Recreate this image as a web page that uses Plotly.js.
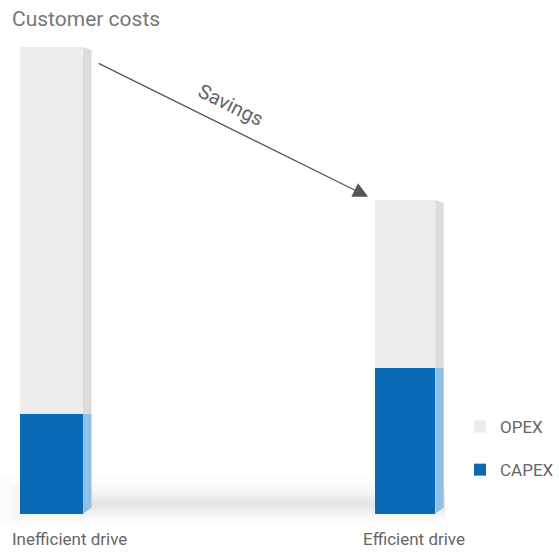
<!DOCTYPE html>
<html>
<head>
<meta charset="utf-8">
<script src="https://cdn.plot.ly/plotly-3.0.1.min.js"></script>
<style>html,body{margin:0;padding:0;background:#fff;}#chart{width:559px;height:555px;}</style>
</head>
<body>
<div id="chart"></div>
<script>
const categories = ["Inefficient drive", "Efficient drive"];
const capex = [21.4, 31.3];
const opex = [78.6, 36.0];
const seriesNames = ["CAPEX", "OPEX"];
const arrowLabel = "Savings";
const chartTitle = "Customer costs";

const FONT = "Roboto, 'Liberation Sans', sans-serif";
const xs = categories.map((c, i) => i);
const widths = [0.178, 0.17];
const totals = capex.map((c, i) => c + opex[i]);

const capexColor = "#0b6ab5", capexSide = "#92c0e4";
const opexColor = "#ececec", opexSide = "#dcdcdc";

const traces = [
  {type: "bar", name: seriesNames[0], x: xs, y: capex, width: widths, legendrank: 2, legendgroup: "capex",
   marker: {color: capexColor, line: {width: 0}}, hoverinfo: "skip"},
  {type: "bar", name: seriesNames[1], x: xs, y: opex, width: widths, legendrank: 1, legendgroup: "opex",
   marker: {color: opexColor, line: {width: 0}}, hoverinfo: "skip"}
];

const d = 0.024, s = 0.7;
const shapes = [];
// soft floor shadow (paper coords: y=0 at the bar base)
const py = p => (514 - p) / 514;
const shadowLayers = [
  [478, 524, 0.02, 0], [485, 519, 0.03, 0.02], [491, 515, 0.035, 0.05], [496, 511, 0.04, 0.08], [500, 508, 0.04, 0.1]
];
shadowLayers.forEach(([t, b, op, x0]) => {
  shapes.push({type: "rect", xref: "paper", yref: "paper", x0: x0, x1: 445 / 559,
    y0: py(b), y1: py(t), fillcolor: "#666", opacity: op, line: {width: 0}, layer: "below"});
});
xs.forEach((x, i) => {
  const xr = x + widths[i] / 2;
  shapes.push({type: "path", xref: "x", yref: "y", layer: "above",
    path: `M ${xr},0 L ${xr + d},${2 * s} L ${xr + d},${capex[i]} L ${xr},${capex[i]} Z`,
    fillcolor: capexSide, line: {width: 0}});
  shapes.push({type: "path", xref: "x", yref: "y", layer: "above",
    path: `M ${xr},${capex[i]} L ${xr + d},${capex[i]} L ${xr + d},${totals[i] - s} L ${xr},${totals[i]} Z`,
    fillcolor: opexSide, line: {width: 0}});
});

const annotations = [
  {x: xs[1] - widths[1] / 2, y: totals[1], xref: "x", yref: "y", xshift: -7, yshift: 3,
   showarrow: true, ax: -271, ay: -134, axref: "pixel", ayref: "pixel", text: "",
   arrowcolor: "#555", arrowwidth: 1.3, arrowhead: 2, arrowsize: 2.3},
  {x: 231 / 559, y: (514 - 105) / 514, xref: "paper", yref: "paper", xanchor: "center", yanchor: "middle",
   text: arrowLabel, showarrow: false, textangle: 26.3, font: {family: FONT, size: 20, color: "#666"}},
  {x: xs[0], y: 0, xref: "x", yref: "paper", yanchor: "top", yshift: -13, xshift: 18,
   text: categories[0], showarrow: false, font: {family: FONT, size: 17, color: "#666"}},
  {x: xs[1], y: 0, xref: "x", yref: "paper", yanchor: "top", yshift: -13, xshift: 9,
   text: categories[1], showarrow: false, font: {family: FONT, size: 17, color: "#666"}}
];

const layout = {
  width: 559, height: 555,
  margin: {l: 0, r: 0, t: 0, b: 41},
  paper_bgcolor: "#fff", plot_bgcolor: "rgba(0,0,0,0)",
  barmode: "stack",
  title: {text: chartTitle, x: 12 / 559, xanchor: "left", xref: "paper",
          y: 1 - 19 / 555, yanchor: "middle", yref: "container",
          font: {family: FONT, size: 21, color: "#777"}},
  xaxis: {range: [-0.1457, 1.435], showgrid: false, zeroline: false, showticklabels: false,
          ticks: "", showline: false, fixedrange: true},
  yaxis: {range: [0, 110.06], showgrid: false, zeroline: false, showticklabels: false,
          ticks: "", showline: false, fixedrange: true},
  showlegend: true,
  legend: {x: 1, xanchor: "right", y: (514 - 409) / 514, yanchor: "top",
           traceorder: "grouped", tracegroupgap: 18,
           font: {family: FONT, size: 17, color: "#666"}, bgcolor: "rgba(0,0,0,0)"},
  shapes: shapes,
  annotations: annotations
};

Plotly.newPlot("chart", traces, layout, {displayModeBar: false, staticPlot: true});
</script>
</body>
</html>
